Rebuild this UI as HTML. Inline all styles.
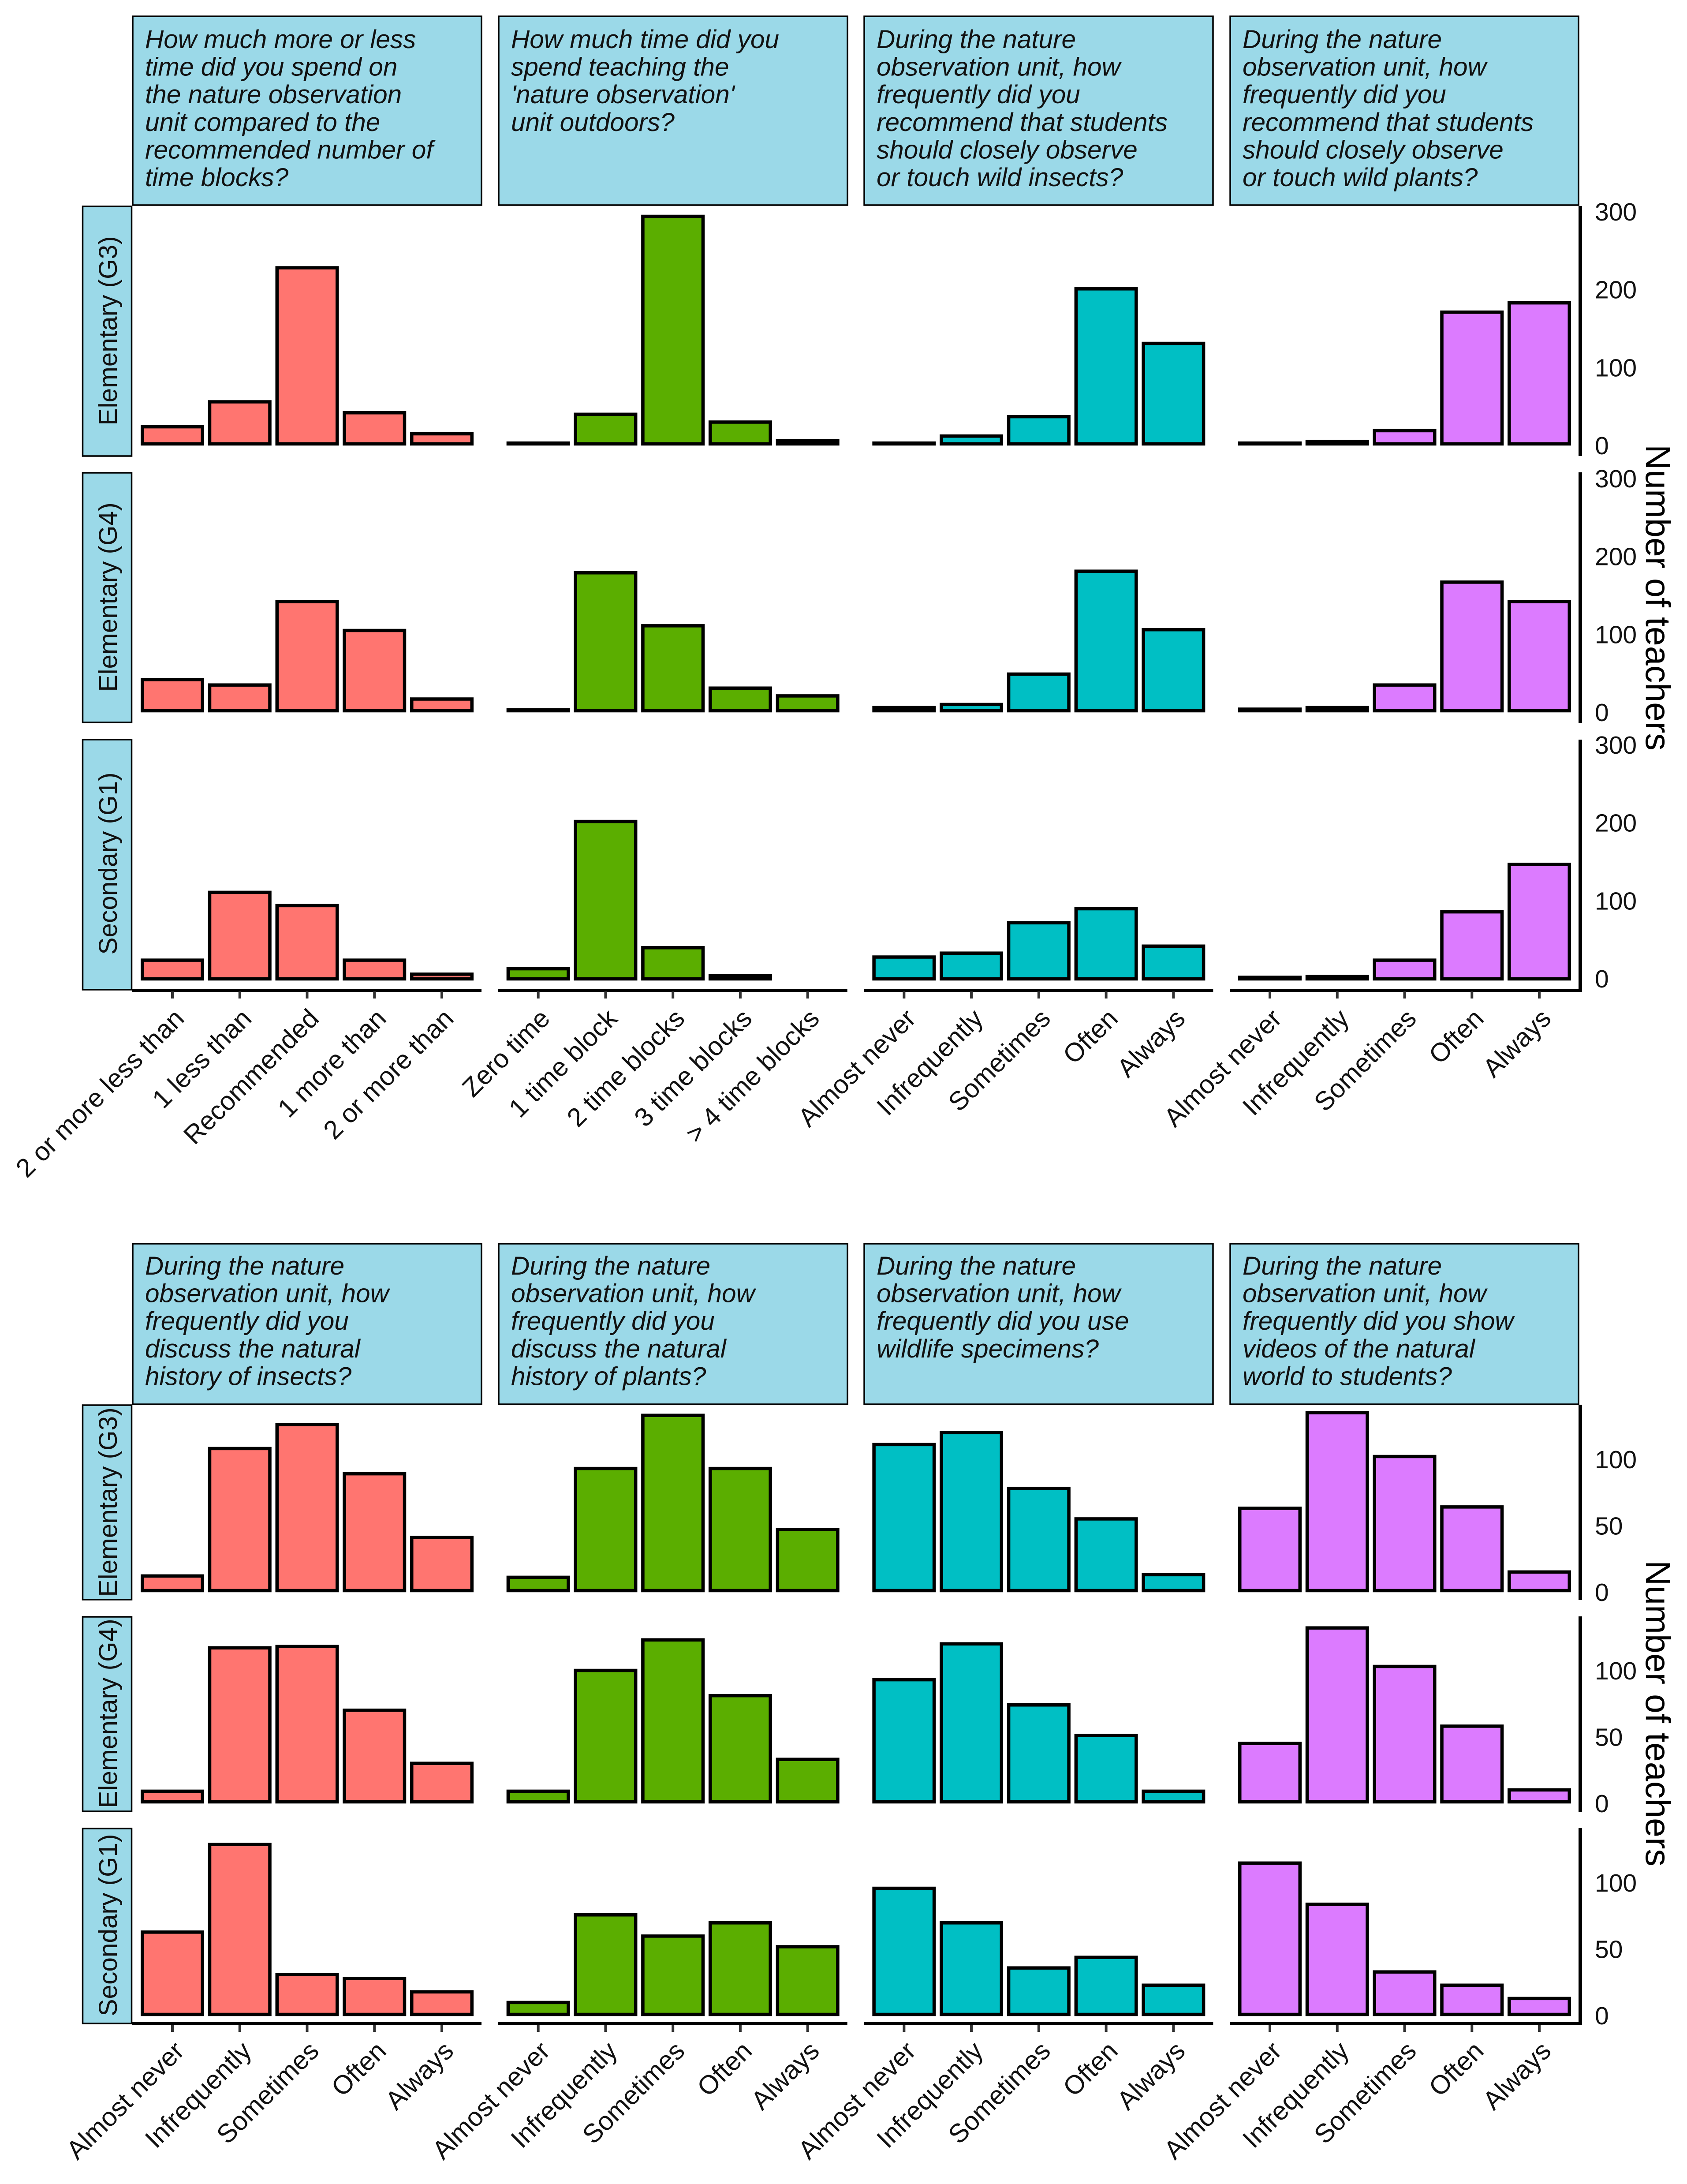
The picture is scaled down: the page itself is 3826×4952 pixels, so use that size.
<!DOCTYPE html>
<html lang="en">
<head>
<meta charset="utf-8">
<title>Nature observation unit survey</title>
<style>
html,body{margin:0;padding:0;background:#fff;}
svg{display:block;}
text{font-family:"Liberation Sans",Arial,sans-serif;fill:#000;}
.hdr{font-size:58.5px;font-style:italic;fill:#111;}
.strip{font-size:58.5px;fill:#111;}
.tick{font-size:57px;fill:#111;}
.xlab{font-size:59.5px;fill:#111;}
.ttl{font-size:79px;}
</style>
</head>
<body>
<svg id="chart" xmlns="http://www.w3.org/2000/svg" width="3826" height="4952" viewBox="0 0 3826 4952">
<rect x="0" y="0" width="3826" height="4952" fill="#fff"/>

<g>
<rect x="301" y="37" width="791" height="428" fill="#9bd9e8" stroke="#000" stroke-width="3.5"/>
<rect x="1131" y="37" width="791" height="428" fill="#9bd9e8" stroke="#000" stroke-width="3.5"/>
<rect x="1960" y="37" width="791" height="428" fill="#9bd9e8" stroke="#000" stroke-width="3.5"/>
<rect x="2790" y="37" width="790" height="428" fill="#9bd9e8" stroke="#000" stroke-width="3.5"/>
<text class="hdr" x="329" y="109"><tspan x="329">How much more or less</tspan><tspan x="329" dy="62.6">time did you spend on</tspan><tspan x="329" dy="62.6">the nature observation</tspan><tspan x="329" dy="62.6">unit compared to the</tspan><tspan x="329" dy="62.6">recommended number of</tspan><tspan x="329" dy="62.6">time blocks?</tspan></text>
<text class="hdr" x="1159" y="109"><tspan x="1159">How much time did you</tspan><tspan x="1159" dy="62.6">spend teaching the</tspan><tspan x="1159" dy="62.6">'nature observation'</tspan><tspan x="1159" dy="62.6">unit outdoors?</tspan></text>
<text class="hdr" x="1988" y="109"><tspan x="1988">During the nature</tspan><tspan x="1988" dy="62.6">observation unit, how</tspan><tspan x="1988" dy="62.6">frequently did you</tspan><tspan x="1988" dy="62.6">recommend that students</tspan><tspan x="1988" dy="62.6">should closely observe</tspan><tspan x="1988" dy="62.6">or touch wild insects?</tspan></text>
<text class="hdr" x="2818" y="109"><tspan x="2818">During the nature</tspan><tspan x="2818" dy="62.6">observation unit, how</tspan><tspan x="2818" dy="62.6">frequently did you</tspan><tspan x="2818" dy="62.6">recommend that students</tspan><tspan x="2818" dy="62.6">should closely observe</tspan><tspan x="2818" dy="62.6">or touch wild plants?</tspan></text>
</g>

<g>
<rect x="301" y="2820" width="791" height="364" fill="#9bd9e8" stroke="#000" stroke-width="3.5"/>
<rect x="1131" y="2820" width="791" height="364" fill="#9bd9e8" stroke="#000" stroke-width="3.5"/>
<rect x="1960" y="2820" width="791" height="364" fill="#9bd9e8" stroke="#000" stroke-width="3.5"/>
<rect x="2790" y="2820" width="790" height="364" fill="#9bd9e8" stroke="#000" stroke-width="3.5"/>
<text class="hdr" x="329" y="2890"><tspan x="329">During the nature</tspan><tspan x="329" dy="62.6">observation unit, how</tspan><tspan x="329" dy="62.6">frequently did you</tspan><tspan x="329" dy="62.6">discuss the natural</tspan><tspan x="329" dy="62.6">history of insects?</tspan></text>
<text class="hdr" x="1159" y="2890"><tspan x="1159">During the nature</tspan><tspan x="1159" dy="62.6">observation unit, how</tspan><tspan x="1159" dy="62.6">frequently did you</tspan><tspan x="1159" dy="62.6">discuss the natural</tspan><tspan x="1159" dy="62.6">history of plants?</tspan></text>
<text class="hdr" x="1988" y="2890"><tspan x="1988">During the nature</tspan><tspan x="1988" dy="62.6">observation unit, how</tspan><tspan x="1988" dy="62.6">frequently did you use</tspan><tspan x="1988" dy="62.6">wildlife specimens?</tspan></text>
<text class="hdr" x="2818" y="2890"><tspan x="2818">During the nature</tspan><tspan x="2818" dy="62.6">observation unit, how</tspan><tspan x="2818" dy="62.6">frequently did you show</tspan><tspan x="2818" dy="62.6">videos of the natural</tspan><tspan x="2818" dy="62.6">world to students?</tspan></text>
</g>

<g>
<rect x="187.5" y="468" width="111" height="566" fill="#9bd9e8" stroke="#000" stroke-width="3.5"/>
<rect x="187.5" y="1072" width="111" height="566" fill="#9bd9e8" stroke="#000" stroke-width="3.5"/>
<rect x="187.5" y="1677" width="111" height="567" fill="#9bd9e8" stroke="#000" stroke-width="3.5"/>
<rect x="187.5" y="3186" width="111" height="441" fill="#9bd9e8" stroke="#000" stroke-width="3.5"/>
<rect x="187.5" y="3666" width="111" height="441" fill="#9bd9e8" stroke="#000" stroke-width="3.5"/>
<rect x="187.5" y="4146" width="111" height="442" fill="#9bd9e8" stroke="#000" stroke-width="3.5"/>
<text class="strip" text-anchor="middle" transform="translate(265 750) rotate(-90)">Elementary (G3)</text>
<text class="strip" text-anchor="middle" transform="translate(265 1354) rotate(-90)">Elementary (G4)</text>
<text class="strip" text-anchor="middle" transform="translate(265 1958) rotate(-90)">Secondary (G1)</text>
<text class="strip" text-anchor="middle" transform="translate(265 3406) rotate(-90)">Elementary (G3)</text>
<text class="strip" text-anchor="middle" transform="translate(265 3885) rotate(-90)">Elementary (G4)</text>
<text class="strip" text-anchor="middle" transform="translate(265 4365) rotate(-90)">Secondary (G1)</text>
</g>

<text class="ttl" text-anchor="middle" transform="translate(3733 1355) rotate(90)">Number of teachers</text>
<text class="ttl" text-anchor="middle" transform="translate(3733 3885) rotate(90)">Number of teachers</text>

<g id="marks"></g>
</svg>

<script>
// ---- categories ----
const timeCompareCats = ["2 or more less than", "1 less than", "Recommended", "1 more than", "2 or more than"];
const timeBlockCats = ["Zero time", "1 time block", "2 time blocks", "3 time blocks", "> 4 time blocks"];
const frequencyCats = ["Almost never", "Infrequently", "Sometimes", "Often", "Always"];

// ---- tick labels ----
const topTicks = [0, 100, 200, 300];
const bottomTicks = [0, 50, 100];

// ---- top block values ----
const topG3TimeSpent = [22, 54, 226, 40, 13];
const topG3Outdoors = [1, 38, 292, 28, 4];
const topG3Insects = [1, 10, 35, 199, 129];
const topG3Plants = [1, 3, 17, 169, 181];
const topG4TimeSpent = [40, 33, 140, 103, 15];
const topG4Outdoors = [1, 177, 109, 29, 19];
const topG4Insects = [4, 8, 47, 179, 104];
const topG4Plants = [2, 4, 33, 165, 140];
const topG1TimeSpent = [24, 111, 94, 24, 6];
const topG1Outdoors = [13, 202, 40, 4, 0];
const topG1Insects = [28, 33, 72, 90, 42];
const topG1Plants = [2, 3, 24, 86, 147];

// ---- bottom block values ----
const botG3HistInsects = [11, 107, 125, 88, 40];
const botG3HistPlants = [10, 92, 132, 92, 46];
const botG3Specimens = [110, 119, 77, 54, 12];
const botG3Videos = [62, 134, 101, 63, 14];
const botG4HistInsects = [8, 116, 117, 69, 29];
const botG4HistPlants = [8, 99, 122, 80, 32];
const botG4Specimens = [92, 119, 73, 50, 8];
const botG4Videos = [44, 131, 102, 57, 9];
const botG1HistInsects = [62, 128, 30, 27, 17];
const botG1HistPlants = [9, 75, 59, 69, 51];
const botG1Specimens = [95, 69, 35, 43, 22];
const botG1Videos = [114, 83, 32, 22, 12];

const topSeries = [
  [topG3TimeSpent, topG3Outdoors, topG3Insects, topG3Plants],
  [topG4TimeSpent, topG4Outdoors, topG4Insects, topG4Plants],
  [topG1TimeSpent, topG1Outdoors, topG1Insects, topG1Plants]
];
const bottomSeries = [
  [botG3HistInsects, botG3HistPlants, botG3Specimens, botG3Videos],
  [botG4HistInsects, botG4HistPlants, botG4Specimens, botG4Videos],
  [botG1HistInsects, botG1HistPlants, botG1Specimens, botG1Videos]
];
const topCats = [timeCompareCats, timeBlockCats, frequencyCats, frequencyCats];
const bottomCats = [frequencyCats, frequencyCats, frequencyCats, frequencyCats];

// ---- layout ----
const NS = "http://www.w3.org/2000/svg";
const marks = document.getElementById("marks");
const COLORS = ["#ff7570", "#5bae00", "#00bfc4", "#dc7bff"];
const PANEL_LEFT = 300, PANEL_STEP = 829.67, PANEL_WIDTH = 792;
const BAND = 152.75, FIRST_CENTER = 91, BAR_OUTER = 144, STROKE = 7.5;

function el(tag, attrs, parent) {
  const e = document.createElementNS(NS, tag);
  for (const k in attrs) e.setAttribute(k, attrs[k]);
  parent.appendChild(e);
  return e;
}
function xBand(panel, i) { return PANEL_LEFT + PANEL_STEP * panel + FIRST_CENTER + BAND * i; }
function yScale(v, zero, perUnit) { return zero - v * perUnit; }

function drawBlock(block, series, cats, ticks, perUnit, rows, axisBottom, labelDy) {
  rows.forEach(function (row, r) {
    // right-hand axis line
    const ax = el("rect", { x: 3580, y: row.top, width: 8, height: row.bottom - row.top, fill: "#000" }, marks);
    
    
    // tick labels
    ticks.forEach(function (t) {
      const lab = el("text", { class: "tick", x: 3617, y: yScale(t, row.labelZero, perUnit) + 21 }, marks);
      
      
      lab.textContent = String(t);
    });
    // bars
    series[r].forEach(function (values, p) {
      values.forEach(function (v, i) {
        const cx = xBand(p, i);
        const yTop = yScale(v, row.barZero, perUnit);
        const bar = el("rect", {
          x: cx - BAR_OUTER / 2 + STROKE / 2,
          y: yTop,
          width: BAR_OUTER - STROKE,
          height: Math.max(row.barZero - yTop, 0),
          fill: COLORS[p],
          stroke: "#000",
          "stroke-width": STROKE
        }, marks);
        
        
      });
    });
  });
  // bottom axes, ticks and rotated labels
  for (let p = 0; p < 4; p++) {
    const axisX = PANEL_LEFT + PANEL_STEP * p;
    const axis = el("rect", { x: axisX, y: axisBottom - 3, width: p === 3 ? 3588 - axisX : PANEL_WIDTH, height: 7, fill: "#000" }, marks);
    
    
    cats[p].forEach(function (c, i) {
      const cx = xBand(p, i);
      const tick = el("rect", { x: cx - 3, y: axisBottom + 3, width: 6, height: 16, fill: "#333" }, marks);
      
      
      const label = el("text", {
        class: "xlab",
        "text-anchor": "end",
        transform: "translate(" + (cx + 30) + " " + (axisBottom + labelDy) + ") rotate(-45)"
      }, marks);
      
      
      label.textContent = c;
    });
  }
}

drawBlock("top", topSeries, topCats, topTicks, 1.767, [
  { top: 467, bottom: 1034, labelZero: 1009, barZero: 1006.5 },
  { top: 1071, bottom: 1639, labelZero: 1614, barZero: 1611.5 },
  { top: 1677, bottom: 2248, labelZero: 2218, barZero: 2219.5 }
], 2245, 68);

drawBlock("bottom", bottomSeries, bottomCats, bottomTicks, 3.01, [
  { top: 3185, bottom: 3628, labelZero: 3609, barZero: 3606.5 },
  { top: 3665, bottom: 4109, labelZero: 4088, barZero: 4085.5 },
  { top: 4145, bottom: 4591, labelZero: 4569, barZero: 4567.5 }
], 4588, 66);
</script>
</body>
</html>
